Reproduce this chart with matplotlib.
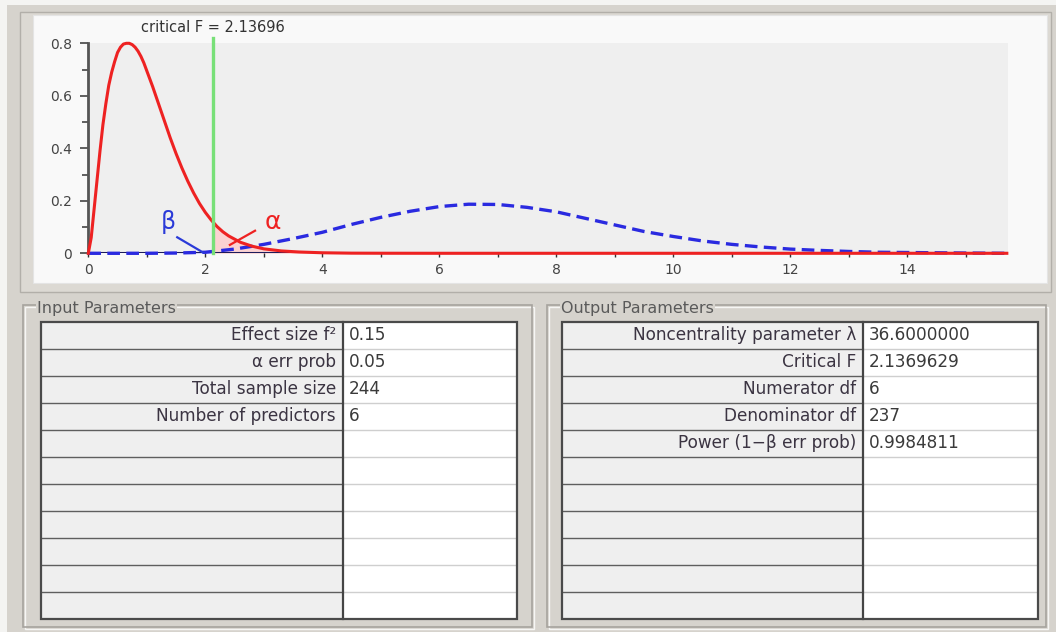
import matplotlib
matplotlib.use("Agg")
import matplotlib.pyplot as plt
from matplotlib.patches import Rectangle
from matplotlib.ticker import MultipleLocator

# ---- data -------------------------------------------------------------
# central F distribution (H0) density
f_h0 = [0, 0.05, 0.1, 0.15, 0.2, 0.25, 0.3, 0.35, 0.4, 0.45, 0.5, 0.55,
        0.6, 0.65, 0.7, 0.75, 0.8, 0.85, 0.9, 0.95, 1.0, 1.1, 1.2, 1.3, 1.4,
        1.5, 1.6, 1.7, 1.8, 1.9, 2.0, 2.1, 2.2, 2.3, 2.4, 2.6, 2.8, 3.0, 3.3,
        3.6, 4.0, 4.5, 5.0, 6.0, 15.7]
dens_h0 = [0, 0.06, 0.17, 0.28, 0.39, 0.49, 0.57, 0.64, 0.69, 0.73, 0.765,
           0.785, 0.797, 0.80, 0.80, 0.795, 0.785, 0.77, 0.75, 0.725, 0.695,
           0.635, 0.57, 0.505, 0.44, 0.38, 0.325, 0.275, 0.23, 0.19, 0.156,
           0.127, 0.102, 0.082, 0.066, 0.042, 0.027, 0.017, 0.009, 0.005,
           0.002, 0.0005, 0.0002, 0, 0]

# noncentral F distribution (H1) density
f_h1 = [0, 1.0, 1.5, 2.0, 2.5, 3.0, 3.5, 4.0, 4.5, 5.0, 5.5, 6.0, 6.5, 7.0,
        7.5, 8.0, 8.5, 9.0, 9.5, 10.0, 10.5, 11.0, 11.5, 12.0, 12.5, 13.0,
        13.5, 14.0, 15.0, 15.7]
dens_h1 = [0, 0, 0.001, 0.004, 0.016, 0.034, 0.056, 0.08, 0.11, 0.137, 0.16,
           0.178, 0.187, 0.186, 0.175, 0.158, 0.133, 0.108, 0.083, 0.064,
           0.047, 0.034, 0.024, 0.016, 0.011, 0.007, 0.004, 0.003, 0.001, 0]

critical_f = 2.13696

x_major = [0, 2, 4, 6, 8, 10, 12, 14]
y_major = [0, 0.2, 0.4, 0.6, 0.8]
y_major_labels = ["0", "0.2", "0.4", "0.6", "0.8"]

input_labels = ["Effect size f²", "α err prob", "Total sample size",
                "Number of predictors"]
input_values = ["0.15", "0.05", "244", "6"]

output_labels = ["Noncentrality parameter λ", "Critical F", "Numerator df",
                 "Denominator df", "Power (1−β err prob)"]
output_values = ["36.6000000", "2.1369629", "6", "237", "0.9984811"]

n_rows = 11

# ---- figure & window chrome (pixel coordinates) ------------------------
W, H = 1056, 632
fig = plt.figure(figsize=(W / 100, H / 100), dpi=100)
fig.patch.set_facecolor("#f4f4f2")

ui = fig.add_axes([0, 0, 1, 1])
ui.set_xlim(0, W)
ui.set_ylim(H, 0)
ui.axis("off")

WIN = "#d6d3cd"


def box(x0, y0, x1, y1, fc, ec="none", lw=0.0, z=1):
    ui.add_patch(Rectangle((x0, y0), x1 - x0, y1 - y0, facecolor=fc,
                           edgecolor=ec, linewidth=lw, zorder=z))


box(7, 5, W, H, WIN, z=0)
# plot frame and inner panel
box(20, 12, 1051, 292, "#dcd9d3", "#b2afa9", 1.0, z=1)
box(33, 15, 1047, 283, "#f9f9f9", "#e4e4e4", 0.8, z=2)

TXT = "#3b3442"


def group(x0, x1, title):
    y0, y1 = 305, 627
    box(x0 + 1.5, y0 + 1.5, x1 + 1.5, y1 + 1.5, "none", "#f6f6f4", 1.0, z=1)
    box(x0, y0, x1, y1, "none", "#a6a39e", 1.2, z=2)
    ui.text(x0 + 14, y0 + 4, title, ha="left", va="center", fontsize=11.5,
            color="#5a5a5a", zorder=3,
            bbox=dict(facecolor=WIN, edgecolor="none", pad=1.0))


def table(left, div, right, labels, values):
    top, bottom = 321.7, 619.3
    rh = (bottom - top) / n_rows
    box(left, top, div, bottom, "#efefef", z=3)
    box(div, top, right, bottom, "#ffffff", z=3)
    for i in range(1, n_rows):
        y = top + i * rh
        ui.plot([left, div], [y, y], color="#5e5e5e", lw=1.0, zorder=4)
        ui.plot([div, right], [y, y], color="#cfcfcf", lw=1.0, zorder=4)
    ui.plot([div, div], [top, bottom], color="#454545", lw=1.6, zorder=5)
    box(left, top, right, bottom, "none", "#4a4a4a", 1.6, z=5)
    for i, (lab, val) in enumerate(zip(labels, values)):
        yc = top + rh * (i + 0.5)
        ui.text(div - 7, yc, lab, ha="right", va="center", fontsize=12.2,
                color=TXT, zorder=6)
        ui.text(div + 6, yc, val, ha="left", va="center", fontsize=12.2,
                color="#3a3a3a", zorder=6)


group(23, 532, "Input Parameters")
group(547, 1046, "Output Parameters")
table(40.7, 343, 517, input_labels, input_values)
table(562, 863, 1037.5, output_labels, output_values)

# ---- distribution plot -------------------------------------------------
px_l, px_r, px_t, px_b = 88.3, 1008, 43.3, 253.3
ax = fig.add_axes([px_l / W, 1 - px_b / H, (px_r - px_l) / W, (px_b - px_t) / H])
ax.set_facecolor("#efefef")
ax.set_xlim(0, 15.72)
ax.set_ylim(0, 0.8)

for s in ("top", "right", "bottom"):
    ax.spines[s].set_visible(False)
ax.spines["left"].set_color("#555555")
ax.spines["left"].set_linewidth(2.0)

ax.set_xticks(x_major)
ax.set_xticklabels([str(v) for v in x_major])
ax.xaxis.set_minor_locator(MultipleLocator(1))
ax.set_yticks(y_major)
ax.set_yticklabels(y_major_labels)
ax.yaxis.set_minor_locator(MultipleLocator(0.1))
ax.tick_params(axis="x", which="both", direction="out", length=3, width=1,
               color="#333333", labelsize=10, labelcolor="#444444", pad=4)
ax.tick_params(axis="y", which="major", direction="out", length=6, width=1.2,
               color="#444444", labelsize=10, labelcolor="#444444", pad=6)
ax.tick_params(axis="y", which="minor", direction="out", length=4, width=1.2,
               color="#444444")

# shaded error regions
beta_fill = ax.fill_between(f_h1, dens_h1, color="#c8ccf6", lw=0, zorder=1)
beta_fill.set_clip_path(Rectangle((0, 0), critical_f, 1, transform=ax.transData))
alpha_fill = ax.fill_between(f_h0, dens_h0, color="#fbd2d2", lw=0, zorder=1)
alpha_fill.set_clip_path(Rectangle((critical_f, 0), 20, 1, transform=ax.transData))

ax.axhline(0, color="#1c1c5c", lw=2.2, zorder=2)
ax.plot(f_h1, dens_h1, color="#2a2ae0", lw=2.4, dashes=(3.8, 1.9), zorder=3,
        clip_on=False)
ax.plot(f_h0, dens_h0, color="#ee2222", lw=2.2, zorder=4, clip_on=False,
        solid_joinstyle="round")

ax.plot([critical_f, critical_f], [0, 0.82], color="#78e078", lw=2.4,
        zorder=5, clip_on=False)
ax.text(critical_f, 0.862, f"critical F = {critical_f:.5f}", ha="center",
        va="center", fontsize=10.5, color="#333333", clip_on=False)

# β / α markers
ax.plot([1.52, 1.97], [0.061, 0.002], color="#2a3ad8", lw=1.6, zorder=6)
ax.text(1.37, 0.12, "β", ha="center", va="center", fontsize=17,
        color="#2a3ad8", zorder=6)
ax.plot([2.85, 2.42], [0.086, 0.032], color="#ee2222", lw=1.6, zorder=6)
ax.text(3.16, 0.12, "α", ha="center", va="center", fontsize=18,
        color="#ee2222", zorder=6)

fig.savefig("out.png", dpi=100, facecolor=fig.get_facecolor())
